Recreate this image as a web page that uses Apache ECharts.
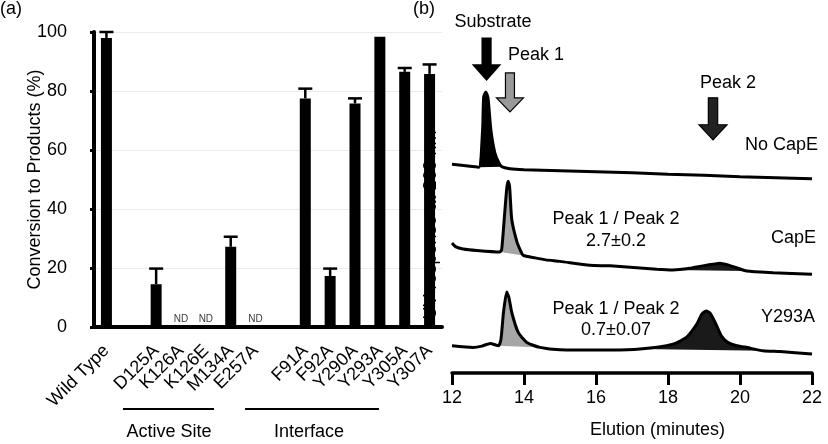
<!DOCTYPE html>
<html>
<head>
<meta charset="utf-8">
<script src="https://cdn.jsdelivr.net/npm/echarts@6/dist/echarts.min.js"></script>
<style>
html,body{margin:0;padding:0;background:#fff}
#wrap{position:relative;width:828px;height:444px}
#c,#o{position:absolute;left:0;top:0;width:828px;height:444px}
#o{pointer-events:none}
</style>
</head>
<body>
<div id="wrap"><div id="c"></div><div id="o"></div></div>
<script>
// ---------- Panel (a) data ----------
const categories = ['Wild Type', ' ', 'D125A', 'K126A', 'K126E', 'M134A', 'E257A', '  ', 'F91A', 'F92A', 'Y290A', 'Y293A', 'Y305A', 'Y307A'];
const conversion = [98, null, 14.5, null, null, 27.2, null, null, 77.5, 17.3, 75.8, 98.4, 86.5, 85.8];
const errorTop   = [100, null, 19.8, null, null, 30.6, null, null, 80.8, 19.8, 77.5, null, 87.8, 89];
const notDetected = ['K126A', 'K126E', 'E257A'];
const groupNames = ['Active Site', 'Interface'];

// ---------- Panel (b) data: elution time (min), UV response (arbitrary units) ----------
const traceNoCapE = [[12.0,209.5],[12.5,207.5],[12.75,206.5],[12.85,244],[12.88,277],[12.94,282],[13.0,276],[13.08,244],[13.19,221],[13.3,211],[13.38,207],[13.61,205],[14,204],[15,203],[16,202],[17,201],[18,199.5],[19,198.3],[20,197],[21,196],[22,195]];
const traceCapE = [[12.0,130.5],[12.11,126.5],[12.31,124.5],[12.69,123],[13.33,121.5],[13.38,124],[13.45,154],[13.52,185],[13.56,192.5],[13.6,187],[13.66,154],[13.8,132],[13.9,123],[13.98,118],[14.31,115.5],[14.61,113.5],[15.0,112],[15.83,108],[16.39,107.5],[17.69,104],[18.14,103.3],[18.61,105],[18.97,107.5],[19.31,109.5],[19.44,110],[19.81,106.7],[20.19,102.3],[20.92,100.7],[22.0,99]];
const traceY293A = [[12.0,27.3],[12.58,25.7],[12.83,27],[13.06,29.7],[13.29,27.3],[13.36,34],[13.43,60.7],[13.52,81.3],[13.58,76],[13.66,60.7],[13.84,40.7],[14.08,30.7],[14.44,25.7],[15.0,23.3],[16.39,23],[17.22,24],[18.14,29],[18.52,36],[18.8,49],[18.94,59],[19.06,62.3],[19.17,60],[19.31,50.7],[19.49,36.7],[19.67,30.5],[19.91,27.3],[20.14,26],[20.64,22.3],[21.11,21.5],[22.0,19]];
const traceNames = ['No CapE', 'CapE', 'Y293A'];
const ratioTexts = ['Peak 1 / Peak 2\n2.7±0.2', 'Peak 1 / Peak 2\n0.7±0.07'];
// integrated peak windows: [trace index, start time, end time, peak kind]
const peakWindows = [[0,12.75,13.38,'substrate'],[1,13.33,13.98,'peak1'],[1,18.14,20.19,'peak2'],[2,13.29,14.44,'peak1'],[2,17.22,20.64,'peak2']];
// arrow annotations: [label, time, response]
const arrows = [['Substrate',12.96,315],['Peak 1',13.61,281.5],['Peak 2',19.25,255]];

// ---------- styling ----------
const FONT = 'Liberation Sans, Arial, Helvetica, sans-serif';
const traces = [traceNoCapE, traceCapE, traceY293A];
const fillColor = {substrate:'#000', peak1:'#a6a6a6', peak2:'#1a1a1a'};
const arrowStyle = {
  'Substrate': {fill:'#000', w:27, h:42},
  'Peak 1': {fill:'#999', w:27, h:39},
  'Peak 2': {fill:'#222', w:28, h:42}
};

const chart = echarts.init(document.getElementById('c'), null, {renderer:'canvas'});

const option = {
  animation: false,
  backgroundColor: '#fff',
  textStyle: {fontFamily: FONT, color: '#000'},
  grid: [
    {left: 94, right: 386, top: 32, bottom: 117},
    {left: 452, right: 16, top: 76, bottom: 70}
  ],
  xAxis: [
    {type:'category', gridIndex:0, data:categories,
     axisLine:{lineStyle:{color:'#000', width:4}},
     axisTick:{show:false},
     axisLabel:{rotate:45, interval:0, fontSize:18, color:'#000', margin:21, fontFamily:FONT}},
    {type:'value', gridIndex:1, min:12, max:22, interval:2,
     axisLine:{lineStyle:{color:'#000', width:3.5}},
     axisTick:{show:true, length:12, lineStyle:{width:3, color:'#000'}},
     axisLabel:{fontSize:18, color:'#000', margin:16, fontFamily:FONT},
     splitLine:{show:false},
     name:'Elution (minutes)', nameLocation:'middle', nameGap:48, nameMoveOverlap:false,
     nameTextStyle:{fontSize:18, color:'#000', fontFamily:FONT, padding:[0,0,0,51]}}
  ],
  yAxis: [
    {type:'value', gridIndex:0, min:0, max:100, interval:20,
     axisLine:{show:true, lineStyle:{color:'#000', width:4}},
     axisTick:{show:true, length:4, lineStyle:{width:3, color:'#000'}},
     axisLabel:{fontSize:18, color:'#000', margin:27, fontFamily:FONT},
     splitLine:{show:true, lineStyle:{color:'#ececec', width:1}},
     name:'Conversion to Products (%)', nameLocation:'middle', nameGap:50, nameMoveOverlap:false,
     nameTextStyle:{fontSize:18, color:'#000', fontFamily:FONT}},
    {type:'value', gridIndex:1, min:0, max:298, show:false}
  ],
  series: [
    {type:'bar', xAxisIndex:0, yAxisIndex:0, data:conversion, barWidth:11,
     itemStyle:{color:'#000'}, z:2},
    {type:'custom', xAxisIndex:0, yAxisIndex:0, z:3,
     data: conversion.map((v,i) => (v!=null && errorTop[i]!=null) ? [i, v, errorTop[i]] : null).filter(d => d),
     renderItem: function(params, api){
       const b = api.coord([api.value(0), api.value(1)]);
       const t = api.coord([api.value(0), api.value(2)]);
       const st = {stroke:'#000', lineWidth:2.5, fill:null};
       return {type:'group', children:[
         {type:'line', shape:{x1:b[0], y1:b[1], x2:t[0], y2:t[1]}, style:st},
         {type:'line', shape:{x1:t[0]-7, y1:t[1], x2:t[0]+7, y2:t[1]}, style:st}
       ]};
     }},
    {type:'scatter', xAxisIndex:0, yAxisIndex:0, symbolSize:0,
     data: notDetected.map(c => [c, 0]),
     label:{show:true, formatter:'ND', position:'top', distance:3, fontSize:10, color:'#000', fontFamily:FONT}},
    // peak integration fills
    {type:'custom', xAxisIndex:1, yAxisIndex:1, z:1, clip:false,
     data: peakWindows.map(w => [w[1], w[2], w[0]]),
     renderItem: function(params, api){
       const w = peakWindows[params.dataIndex];
       const pts = traces[w[0]].filter(p => p[0] >= w[1] - 1e-9 && p[0] <= w[2] + 1e-9).map(p => api.coord(p));
       return {type:'polygon', shape:{points:pts}, style:{fill:fillColor[w[3]]}};
     }},
    ...traces.map((tr, k) => ({
      type:'line', name:traceNames[k], xAxisIndex:1, yAxisIndex:1, data:tr, z:3, clip:false,
      symbol:'none', smooth:0.2, lineStyle:{color:'#000', width:3}
    })),
    // arrow annotations
    {type:'custom', xAxisIndex:1, yAxisIndex:1, z:4, clip:false,
     data: arrows.map(a => [a[1], a[2]]),
     renderItem: function(params, api){
       const s = arrowStyle[arrows[params.dataIndex][0]];
       const c = api.coord([api.value(0), api.value(1)]);
       const w = s.w, h = s.h, sw = w/3, hh = h*0.36;
       const x0 = c[0]-w/2, y0 = c[1]-h/2;
       const pts = [[x0+(w-sw)/2,y0],[x0+(w+sw)/2,y0],[x0+(w+sw)/2,y0+h-hh],[x0+w,y0+h-hh],[x0+w/2,y0+h],[x0,y0+h-hh],[x0+(w-sw)/2,y0+h-hh]];
       return {type:'polygon', shape:{points:pts}, style:{fill:s.fill, stroke:'#000', lineWidth:1.2}};
     }}
  ],
  graphic: [
    {type:'text', x:0, y:0, style:{text:'(a)', fontSize:18, fontFamily:FONT, fill:'#000'}},
    {type:'text', x:413, y:0, style:{text:'(b)', fontSize:18, fontFamily:FONT, fill:'#000'}},
    // group brackets
    {type:'line', shape:{x1:123, y1:409, x2:214, y2:409}, style:{stroke:'#000', lineWidth:2}},
    {type:'line', shape:{x1:245, y1:409, x2:379, y2:409}, style:{stroke:'#000', lineWidth:2}},
    {type:'text', x:169, y:432, style:{text:groupNames[0], fontSize:18, fontFamily:FONT, fill:'#000', align:'center', verticalAlign:'middle'}},
    {type:'text', x:309, y:432, style:{text:groupNames[1], fontSize:18, fontFamily:FONT, fill:'#000', align:'center', verticalAlign:'middle'}},
    // panel b texts
    {type:'text', x:493, y:22, style:{text:arrows[0][0], fontSize:18, fontFamily:FONT, fill:'#000', align:'center', verticalAlign:'middle'}},
    {type:'text', x:536, y:55, style:{text:arrows[1][0], fontSize:18, fontFamily:FONT, fill:'#000', align:'center', verticalAlign:'middle'}},
    {type:'text', x:728, y:83, style:{text:arrows[2][0], fontSize:18, fontFamily:FONT, fill:'#000', align:'center', verticalAlign:'middle'}},
    {type:'text', x:818, y:145, style:{text:traceNames[0], fontSize:18, fontFamily:FONT, fill:'#000', align:'right', verticalAlign:'middle'}},
    {type:'text', x:816, y:238, style:{text:traceNames[1], fontSize:18, fontFamily:FONT, fill:'#000', align:'right', verticalAlign:'middle'}},
    {type:'text', x:815, y:317, style:{text:traceNames[2], fontSize:18, fontFamily:FONT, fill:'#000', align:'right', verticalAlign:'middle'}},
    {type:'text', x:616, y:230, style:{text:ratioTexts[0], fontSize:18, lineHeight:22, fontFamily:FONT, fill:'#000', align:'center', verticalAlign:'middle'}},
    {type:'text', x:616, y:320, style:{text:ratioTexts[1], fontSize:18, lineHeight:21, fontFamily:FONT, fill:'#000', align:'center', verticalAlign:'middle'}}
  ]
};
chart.setOption(option);

// Separate transparent ECharts layer for the rotated panel (b) axis title
const overlay = echarts.init(document.getElementById('o'), null, {renderer:'canvas'});
overlay.setOption({
  animation: false,
  backgroundColor: 'transparent',
  graphic: [
    {type:'text', x:431, y:225, rotation:Math.PI/2, silent:true,
     style:{text:'UV-response at 260 nm', fontSize:18, fontFamily:FONT, fill:'#000', align:'center', verticalAlign:'middle'}}
  ]
});
</script>
</body>
</html>
